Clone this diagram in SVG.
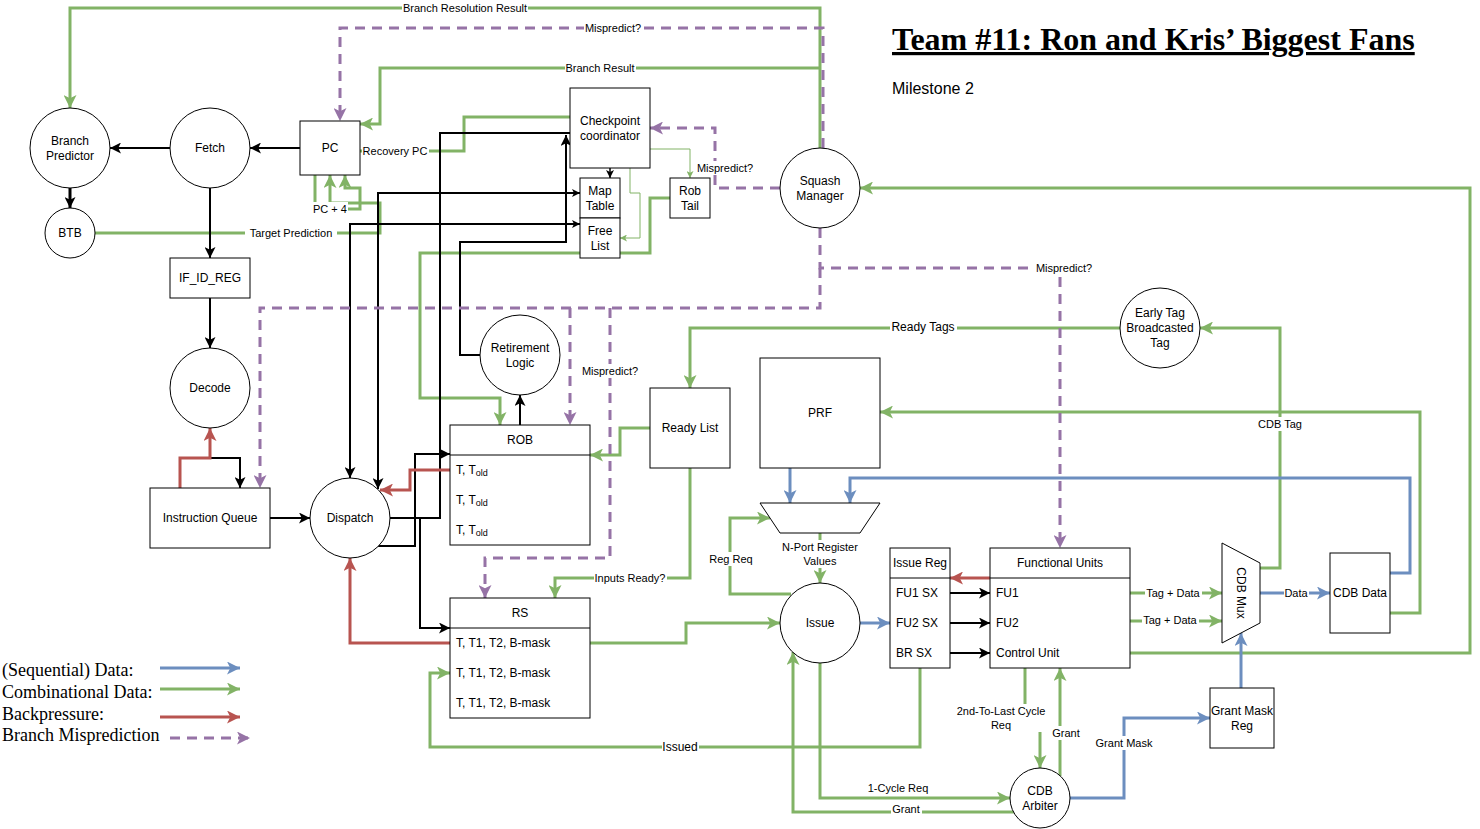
<svg xmlns="http://www.w3.org/2000/svg" width="1480" height="829" viewBox="0 0 1480 829">
<style>
.n{fill:#fff;stroke:#000;stroke-width:1}
.t{font-family:"Liberation Sans",Arial,sans-serif;font-size:12px;text-anchor:middle;dominant-baseline:central;fill:#000}
.tl{font-family:"Liberation Sans",Arial,sans-serif;font-size:12px;dominant-baseline:central;fill:#000}
.l{font-family:"Liberation Sans",Arial,sans-serif;font-size:11px;text-anchor:middle;dominant-baseline:central;fill:#000}
.bg{fill:#fff}
.g{stroke:#82b366;stroke-width:3;fill:none}
.gt{stroke:#82b366;stroke-width:1;fill:none}
.k{stroke:#000;stroke-width:2;fill:none}
.r{stroke:#b85450;stroke-width:3;fill:none}
.b{stroke:#6c8ebf;stroke-width:3;fill:none}
.p{stroke:#9673a6;stroke-width:3;fill:none;stroke-dasharray:10 7}
.lg{font-family:"Liberation Serif","Times New Roman",serif;font-size:18px;fill:#000}
</style>
<defs>
<marker id="mg" viewBox="0 0 12 12" markerWidth="13" markerHeight="13" refX="12" refY="6" orient="auto" markerUnits="userSpaceOnUse"><path d="M0,0 L12,6 L0,12 L3,6 Z" fill="#82b366"/></marker>
<marker id="mgs" viewBox="0 0 12 12" markerWidth="7" markerHeight="7" refX="12" refY="6" orient="auto" markerUnits="userSpaceOnUse"><path d="M0,0 L12,6 L0,12 L3,6 Z" fill="#82b366"/></marker>
<marker id="mk" viewBox="0 0 12 12" markerWidth="11" markerHeight="11" refX="12" refY="6" orient="auto-start-reverse" markerUnits="userSpaceOnUse"><path d="M0,0 L12,6 L0,12 L3,6 Z" fill="#000"/></marker>
<marker id="mks" viewBox="0 0 12 12" markerWidth="8" markerHeight="8" refX="12" refY="6" orient="auto-start-reverse" markerUnits="userSpaceOnUse"><path d="M0,0 L12,6 L0,12 L3,6 Z" fill="#000"/></marker>
<marker id="mr" viewBox="0 0 12 12" markerWidth="13" markerHeight="13" refX="12" refY="6" orient="auto" markerUnits="userSpaceOnUse"><path d="M0,0 L12,6 L0,12 L3,6 Z" fill="#b85450"/></marker>
<marker id="mb" viewBox="0 0 12 12" markerWidth="13" markerHeight="13" refX="12" refY="6" orient="auto" markerUnits="userSpaceOnUse"><path d="M0,0 L12,6 L0,12 L3,6 Z" fill="#6c8ebf"/></marker>
<marker id="mp" viewBox="0 0 12 12" markerWidth="13" markerHeight="13" refX="12" refY="6" orient="auto" markerUnits="userSpaceOnUse"><path d="M0,0 L12,6 L0,12 L3,6 Z" fill="#9673a6"/></marker>
</defs>
<rect width="1480" height="829" fill="#fff"/>

<g id="connectors">
<!-- green -->
<path class="g" d="M820,148 V8 H70 V108" marker-end="url(#mg)"/>
<path class="g" d="M820,68 H380 V124 H360" marker-end="url(#mg)"/>
<path class="g" d="M570,117 H464 V151 H360" marker-end="url(#mgs)"/>
<path class="g" d="M95,233 H380 V203 H330 V175" marker-end="url(#mg)"/>
<path class="g" d="M315,175 V209 H360 V188 H345 V175" marker-end="url(#mg)"/>
<path class="g" d="M670,198 H650 V253 H420 V398 H500 V425" marker-end="url(#mg)"/>
<path class="g" d="M1120,328 H690 V388" marker-end="url(#mg)"/>
<path class="g" d="M650,428 H620 V455 H590" marker-end="url(#mg)"/>
<path class="g" d="M690,468 V578 H555 V598" marker-end="url(#mg)"/>
<path class="g" d="M590,643 H686 V623 H780" marker-end="url(#mg)"/>
<path class="g" d="M920,668 V747 H430 V673 H450" marker-end="url(#mg)"/>
<path class="g" d="M791,594 H730 V518 H770" marker-end="url(#mg)"/>
<path class="g" d="M820,533 V583" marker-end="url(#mg)"/>
<path class="g" d="M820,663 V798 H1010" marker-end="url(#mg)"/>
<path class="g" d="M1014,812 H793 V652" marker-end="url(#mg)"/>
<path class="g" d="M1130,593 H1222" marker-end="url(#mg)"/>
<path class="g" d="M1130,621 H1222" marker-end="url(#mg)"/>
<path class="g" d="M1130,653 H1470 V188 H860" marker-end="url(#mg)"/>
<path class="g" d="M1390,613 H1420 V412 H880" marker-end="url(#mg)"/>
<path class="g" d="M1260,568 H1280 V328 H1200" marker-end="url(#mg)"/>
<path class="g" d="M1025,668 V718 H1040 V768" marker-end="url(#mg)"/>
<path class="g" d="M1060,776 V668" marker-end="url(#mg)"/>
<path class="gt" d="M650,149 H690 V178" marker-end="url(#mgs)"/>
<path class="gt" d="M630,168 V193 H640 V238 H620" marker-end="url(#mgs)"/>
<!-- black -->
<path class="k" d="M170,148 H110" marker-end="url(#mk)"/>
<path class="k" d="M300,148 H250" marker-end="url(#mk)"/>
<path class="k" style="stroke-width:3" d="M70,188 V208" marker-end="url(#mk)"/>
<path class="k" d="M210,188 V258" marker-end="url(#mk)"/>
<path class="k" d="M210,298 V348" marker-end="url(#mk)"/>
<path class="k" d="M210,428 V458 H240 V488" marker-end="url(#mk)"/>
<path class="k" d="M270,518 H310" marker-end="url(#mk)"/>
<path class="k" d="M580,193 H378 V489" marker-start="url(#mks)" marker-end="url(#mk)"/>
<path class="k" d="M580,224 H350 V478" marker-start="url(#mks)" marker-end="url(#mk)"/>
<path class="k" d="M390,518 H440 V133 H570"/>
<path class="k" d="M480,355 H460 V242 H566 V135" marker-end="url(#mk)"/>
<path class="k" d="M378,546 H415 V454 H450" marker-end="url(#mk)"/>
<path class="k" d="M390,518 H420 V628 H450" marker-end="url(#mk)"/>
<path class="k" d="M520,425 V395" marker-end="url(#mk)"/>
<path class="k" style="stroke-width:1.5" d="M610,168 V178" marker-end="url(#mks)"/>
<path class="k" d="M950,593 H990" marker-end="url(#mk)"/>
<path class="k" d="M950,623 H990" marker-end="url(#mk)"/>
<path class="k" d="M950,653 H990" marker-end="url(#mk)"/>
<!-- red -->
<path class="r" d="M180,488 V458 H210 V428" marker-end="url(#mr)"/>
<path class="r" d="M450,470 H410 V490 H380" marker-end="url(#mr)"/>
<path class="r" d="M450,643 H350 V558" marker-end="url(#mr)"/>
<path class="r" d="M990,578 H950" marker-end="url(#mr)"/>
<!-- blue -->
<path class="b" d="M860,623 H890" marker-end="url(#mb)"/>
<path class="b" d="M790,468 V503" marker-end="url(#mb)"/>
<path class="b" d="M1390,573 H1410 V478 H850 V503" marker-end="url(#mb)"/>
<path class="b" d="M1260,593 H1330" marker-end="url(#mb)"/>
<path class="b" d="M1070,798 H1124 V718 H1210" marker-end="url(#mb)"/>
<path class="b" d="M1241,688 V633" marker-end="url(#mb)"/>
<!-- purple -->
<path class="p" d="M823,148 V28 H340 V121" marker-end="url(#mp)"/>
<path class="p" d="M780,188 H715 V128 H650" marker-end="url(#mp)"/>
<path class="p" d="M820,228 V268 H1060 V548" marker-end="url(#mp)"/>
<path class="p" d="M820,268 V308 H260 V488" marker-end="url(#mp)"/>
<path class="p" d="M570,308 V425" marker-end="url(#mp)"/>
<path class="p" d="M610,308 V558 H485 V598" marker-end="url(#mp)"/>

<!-- labels -->
<rect class="bg" x="402" y="1" width="126" height="14"/><text class="l" x="465" y="8">Branch Resolution Result</text>
<rect class="bg" x="584" y="21" width="58" height="14"/><text class="l" x="613" y="28">Mispredict?</text>
<rect class="bg" x="565" y="61" width="71" height="14"/><text class="l" x="600" y="68">Branch Result</text>
<rect class="bg" x="362" y="144" width="67" height="14"/><text class="l" x="395" y="151">Recovery PC</text>
<rect class="bg" x="312" y="202" width="36" height="14"/><text class="l" x="330" y="209">PC + 4</text>
<rect class="bg" x="245" y="226" width="92" height="14"/><text class="l" x="291" y="233">Target Prediction</text>
<rect class="bg" x="696" y="161" width="58" height="14"/><text class="l" x="725" y="168">Mispredict?</text>
<rect class="bg" x="1035" y="261" width="58" height="14"/><text class="l" x="1064" y="268">Mispredict?</text>
<rect class="bg" x="581" y="364" width="58" height="14"/><text class="l" x="610" y="371">Mispredict?</text>
<rect class="bg" x="890" y="320" width="67" height="15"/><text class="t" x="923" y="327">Ready Tags</text>
<rect class="bg" x="1257" y="417" width="47" height="14"/><text class="l" x="1280" y="424">CDB Tag</text>
<rect class="bg" x="594" y="571" width="73" height="14"/><text class="l" x="630" y="578">Inputs Ready?</text>
<rect class="bg" x="709" y="552" width="45" height="14"/><text class="l" x="731" y="559">Reg Req</text>
<rect class="bg" x="781" y="540" width="78" height="28"/><text class="l" x="820" y="547">N-Port Register</text><text class="l" x="820" y="561">Values</text>
<rect class="bg" x="662" y="740" width="37" height="15"/><text class="t" x="680" y="747">Issued</text>
<text class="l" x="898" y="788">1-Cycle Req</text>
<rect class="bg" x="891" y="803" width="31" height="13"/><text class="l" x="906" y="809">Grant</text>
<rect class="bg" x="1145" y="586" width="57" height="14"/><text class="l" x="1173" y="593">Tag + Data</text>
<rect class="bg" x="1142" y="613" width="57" height="14"/><text class="l" x="1170" y="620">Tag + Data</text>
<rect class="bg" x="1284" y="586" width="25" height="14"/><text class="l" x="1296" y="593">Data</text>
<rect class="bg" x="955" y="704" width="92" height="28"/><text class="l" x="1001" y="711">2nd-To-Last Cycle</text><text class="l" x="1001" y="725">Req</text>
<rect class="bg" x="1051" y="726" width="31" height="14"/><text class="l" x="1066" y="733">Grant</text>
<rect class="bg" x="1095" y="736" width="59" height="14"/><text class="l" x="1124" y="743">Grant Mask</text>
</g>

<g id="branch-predictor"><circle class="n" cx="70" cy="148" r="40"/><text class="t" x="70" y="141">Branch</text><text class="t" x="70" y="156">Predictor</text></g>
<g id="fetch"><circle class="n" cx="210" cy="148" r="40"/><text class="t" x="210" y="148">Fetch</text></g>
<g id="pc"><rect class="n" x="300" y="121" width="60" height="54"/><text class="t" x="330" y="148">PC</text></g>
<g id="btb"><circle class="n" cx="70" cy="233" r="25"/><text class="t" x="70" y="233">BTB</text></g>
<g id="if-id-reg"><rect class="n" x="170" y="258" width="80" height="40"/><text class="t" x="210" y="278">IF_ID_REG</text></g>
<g id="decode"><circle class="n" cx="210" cy="388" r="40"/><text class="t" x="210" y="388">Decode</text></g>
<g id="instruction-queue"><rect class="n" x="150" y="488" width="120" height="60"/><text class="t" x="210" y="518">Instruction Queue</text></g>
<g id="dispatch"><circle class="n" cx="350" cy="518" r="40"/><text class="t" x="350" y="518">Dispatch</text></g>
<g id="checkpoint"><rect class="n" x="570" y="88" width="80" height="80"/><text class="t" x="610" y="121">Checkpoint</text><text class="t" x="610" y="136">coordinator</text></g>
<g id="map-table"><rect class="n" x="580" y="178" width="40" height="40"/><text class="t" x="600" y="191">Map</text><text class="t" x="600" y="206">Table</text></g>
<g id="free-list"><rect class="n" x="580" y="218" width="40" height="40"/><text class="t" x="600" y="231">Free</text><text class="t" x="600" y="246">List</text></g>
<g id="rob-tail"><rect class="n" x="670" y="178" width="40" height="40"/><text class="t" x="690" y="191">Rob</text><text class="t" x="690" y="206">Tail</text></g>
<g id="squash-manager"><circle class="n" cx="820" cy="188" r="40"/><text class="t" x="820" y="181">Squash</text><text class="t" x="820" y="196">Manager</text></g>
<g id="retirement-logic"><circle class="n" cx="520" cy="355" r="40"/><text class="t" x="520" y="348">Retirement</text><text class="t" x="520" y="363">Logic</text></g>
<g id="rob"><rect class="n" x="450" y="425" width="140" height="120"/><line x1="450" y1="455" x2="590" y2="455" stroke="#000"/><text class="t" x="520" y="440">ROB</text>
<text class="tl" x="456" y="470">T, T<tspan font-size="9" dy="3">old</tspan></text>
<text class="tl" x="456" y="500">T, T<tspan font-size="9" dy="3">old</tspan></text>
<text class="tl" x="456" y="530">T, T<tspan font-size="9" dy="3">old</tspan></text></g>
<g id="ready-list"><rect class="n" x="650" y="388" width="80" height="80"/><text class="t" x="690" y="428">Ready List</text></g>
<g id="prf"><rect class="n" x="760" y="358" width="120" height="110"/><text class="t" x="820" y="413">PRF</text></g>
<g id="nport-mux"><path class="n" d="M760,503 H880 L860,533 H780 Z"/></g>
<g id="early-tag"><circle class="n" cx="1160" cy="328" r="40"/><text class="t" x="1160" y="313">Early Tag</text><text class="t" x="1160" y="328">Broadcasted</text><text class="t" x="1160" y="343">Tag</text></g>
<g id="rs"><rect class="n" x="450" y="598" width="140" height="120"/><line x1="450" y1="628" x2="590" y2="628" stroke="#000"/><text class="t" x="520" y="613">RS</text>
<text class="tl" x="456" y="643">T, T1, T2, B-mask</text><text class="tl" x="456" y="673">T, T1, T2, B-mask</text><text class="tl" x="456" y="703">T, T1, T2, B-mask</text></g>
<g id="issue"><circle class="n" cx="820" cy="623" r="40"/><text class="t" x="820" y="623">Issue</text></g>
<g id="issue-reg"><rect class="n" x="890" y="548" width="60" height="120"/><line x1="890" y1="578" x2="950" y2="578" stroke="#000"/><text class="t" x="920" y="563">Issue Reg</text>
<text class="tl" x="896" y="593">FU1 SX</text><text class="tl" x="896" y="623">FU2 SX</text><text class="tl" x="896" y="653">BR SX</text></g>
<g id="functional-units"><rect class="n" x="990" y="548" width="140" height="120"/><line x1="990" y1="578" x2="1130" y2="578" stroke="#000"/><text class="t" x="1060" y="563">Functional Units</text>
<text class="tl" x="996" y="593">FU1</text><text class="tl" x="996" y="623">FU2</text><text class="tl" x="996" y="653">Control Unit</text></g>
<g id="cdb-mux"><path class="n" d="M1222,543 L1260,563 V623 L1222,643 Z"/><text class="t" transform="translate(1241,593) rotate(90)">CDB Mux</text></g>
<g id="cdb-data"><rect class="n" x="1330" y="553" width="60" height="80"/><text class="t" x="1360" y="593">CDB Data</text></g>
<g id="grant-mask-reg"><rect class="n" x="1210" y="688" width="64" height="60"/><text class="t" x="1242" y="711">Grant Mask</text><text class="t" x="1242" y="726">Reg</text></g>
<g id="cdb-arbiter"><circle class="n" cx="1040" cy="798" r="30"/><text class="t" x="1040" y="791">CDB</text><text class="t" x="1040" y="806">Arbiter</text></g>

<g id="title">
<text x="892" y="50" font-family="'Liberation Serif','Times New Roman',serif" font-weight="bold" font-size="32" text-decoration="underline">Team #11: Ron and Kris’ Biggest Fans</text>
<text x="892" y="94" font-family="'Liberation Sans',Arial,sans-serif" font-size="16">Milestone 2</text>
</g>

<g id="legend">
<text class="lg" x="2" y="676">(Sequential) Data:</text>
<text class="lg" x="2" y="698">Combinational Data:</text>
<text class="lg" x="2" y="720">Backpressure:</text>
<text class="lg" x="2" y="741">Branch Misprediction</text>
<path class="b" d="M160,668 H240" marker-end="url(#mb)"/>
<path class="g" d="M160,689 H240" marker-end="url(#mg)"/>
<path class="r" d="M160,717 H240" marker-end="url(#mr)"/>
<path class="p" d="M170,738 H250" marker-end="url(#mp)"/>
</g>
</svg>
